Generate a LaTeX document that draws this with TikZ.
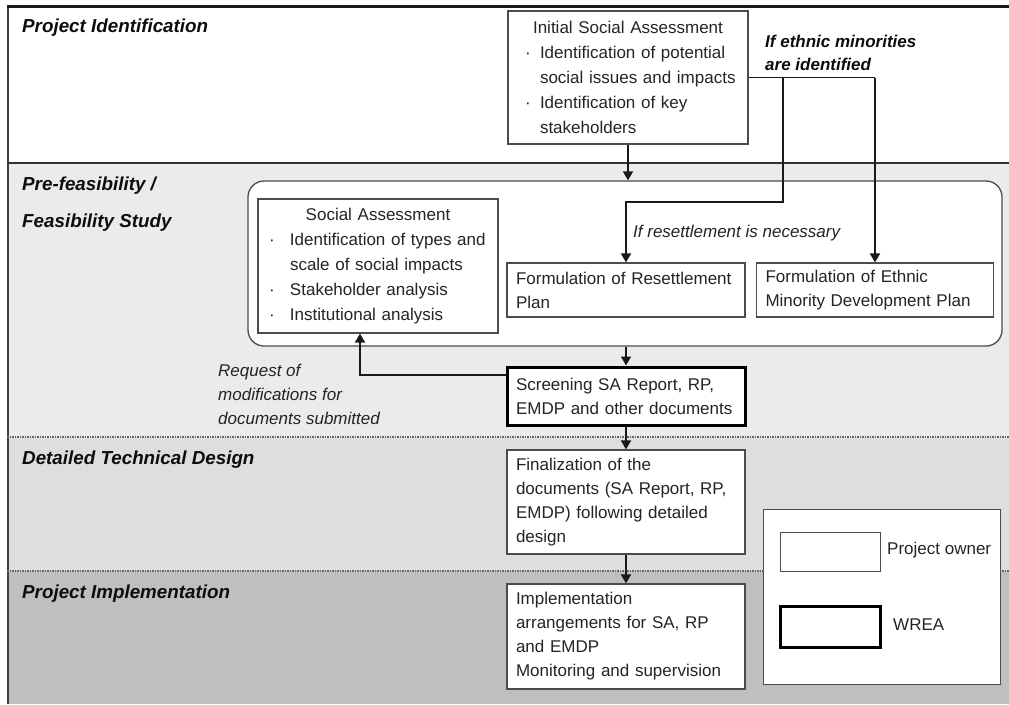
\documentclass[tikz,border=0pt]{standalone}
\usepackage{fontspec}
\setmainfont{Liberation Sans}
\usetikzlibrary{arrows.meta}
\begin{document}
\begin{tikzpicture}[x=1pt,y=-1pt,
  every node/.style={font=\fontsize{17}{24}\selectfont, text=black!86},
  box/.style={draw=black!70, line width=1.2pt, fill=white, align=left,
    inner xsep=9pt, inner ysep=3pt},
  thickbox/.style={box, draw=black, line width=3pt},
  stage/.style={anchor=west, inner sep=0pt, text=black!95,
    font=\fontsize{18.8}{24}\selectfont\bfseries\itshape},
  note/.style={anchor=west, inner sep=0pt, align=left,
    font=\fontsize{17}{24}\selectfont\itshape},
  arr/.style={-{Triangle[length=9pt,width=10pt]}, line width=1.8pt, black!90},
  link/.style={line width=1.8pt, black!90},
  sep/.style={black!60, line width=1.5pt, densely dotted}]

\useasboundingbox (0,0) rectangle (1009,704);

% phase bands
\fill[white] (7,7) rectangle (1009,163);
\fill[black!8] (7,163) rectangle (1009,437);
\fill[black!13] (7,437) rectangle (1009,571);
\fill[black!25] (7,571) rectangle (1009,704);
\draw[line width=1.8pt, black!75] (8,7) -- (8,704);
\draw[line width=3pt, black!90] (1009,6) -- (6.5,6);
\draw[line width=2pt, black!80] (7,163) -- (1009,163);
\draw[sep] (7,437) -- (1009,437);
\draw[sep] (7,571) -- (1009,571);

% phase titles
\node[stage] (pid) at (22,28) {Project Identification};
\node[stage] (pfs1) at (22,186) {Pre-feasibility /};
\node[stage] (pfs2) at (22,223) {Feasibility Study};
\node[stage] (dtd) at (22,460) {Detailed Technical Design};
\node[stage] (pim) at (22,594) {Project Implementation};

% initial assessment
\node[box, text width=222pt, minimum width=240pt, minimum height=133pt,
  font=\fontsize{17}{25}\selectfont] (isa) at (628,77.5)
  {\makebox[222pt][c]{Initial Social Assessment}\\
   \makebox[23pt][l]{\hspace{8pt}·}Identification of potential\\
   \hspace*{23pt}social issues and impacts\\
   \makebox[23pt][l]{\hspace{8pt}·}Identification of key\\
   \hspace*{23pt}stakeholders};

\node[note, font=\fontsize{17}{23}\selectfont\bfseries\itshape, text=black!95]
  (eth) at (765,53) {If ethnic minorities\\are identified};

% feasibility study group
\node[draw=black!70, line width=1.3pt, rounded corners=16pt, fill=white,
  minimum width=754pt, minimum height=165pt, inner sep=0pt] (grp) at (625,263.5) {};

\node[box, text width=222pt, minimum width=240pt, minimum height=134pt,
  font=\fontsize{17}{25}\selectfont] (sa) at (378,266)
  {\makebox[222pt][c]{Social Assessment}\\
   \makebox[23pt][l]{\hspace{2pt}·}Identification of types and\\
   \hspace*{23pt}scale of social impacts\\
   \makebox[23pt][l]{\hspace{2pt}·}Stakeholder analysis\\
   \makebox[23pt][l]{\hspace{2pt}·}Institutional analysis};

\node[box, text width=220pt, minimum width=238pt, minimum height=54pt] (rp) at (626,290)
  {Formulation of Resettlement\\Plan};
\node[box, text width=219pt, minimum width=237pt, minimum height=54pt] (emdp) at (875,290)
  {Formulation of Ethnic\\Minority Development Plan};

\node[note] (res) at (633,233) {If resettlement is necessary};

% screening and later stages
\node[thickbox, text width=220pt, minimum width=238pt, minimum height=58pt] (scr) at (626,396)
  {Screening SA Report, RP,\\EMDP and other documents};
\node[note] (req) at (218,394)
  {Request of\\modifications for\\documents submitted};

\node[box, text width=220pt, minimum width=238pt, minimum height=104pt] (fin) at (626,502)
  {Finalization of the\\documents (SA Report, RP,\\EMDP) following detailed\\design};
\node[box, text width=220pt, minimum width=238pt, minimum height=105pt] (imp) at (626,636.5)
  {Implementation\\arrangements for SA, RP\\and EMDP\\Monitoring and supervision};

% legend
\node[draw=black!70, line width=1pt, fill=white, minimum width=237pt,
  minimum height=175pt, inner sep=0pt] (leg) at (881.5,596.5) {};
\node[draw=black!70, line width=1pt, fill=white, minimum width=100pt,
  minimum height=39pt, inner sep=0pt] (swpo) at (830,551.5) {};
\node[draw=black, line width=3pt, fill=white, minimum width=100pt,
  minimum height=41pt, inner sep=0pt] (swwr) at (830,626.5) {};
\node[anchor=west, inner sep=0pt] (lpo) at (887,550) {Project owner};
\node[anchor=west, inner sep=0pt] (lwr) at (893,625) {WREA};

% connectors
\coordinate (j1) at (783,77.5);
\coordinate (j2) at (875,77.5);
\coordinate (bend) at (783,202);
\draw[arr] (isa.south) -- (isa.south |- grp.north);
\draw[link] (isa.east) -- (j2);
\draw[arr] (j2) -- (emdp.north);
\draw[arr] (j1) -- (bend) -| (rp.north);
\draw[arr] (scr.north |- grp.south) -- (scr.north);
\draw[arr] ([yshift=21pt]scr.west) -| ([xshift=-18pt]sa.south);
\draw[arr] (scr.south) -- (fin.north);
\draw[arr] (fin.south) -- (imp.north);
\end{tikzpicture}
\end{document}
